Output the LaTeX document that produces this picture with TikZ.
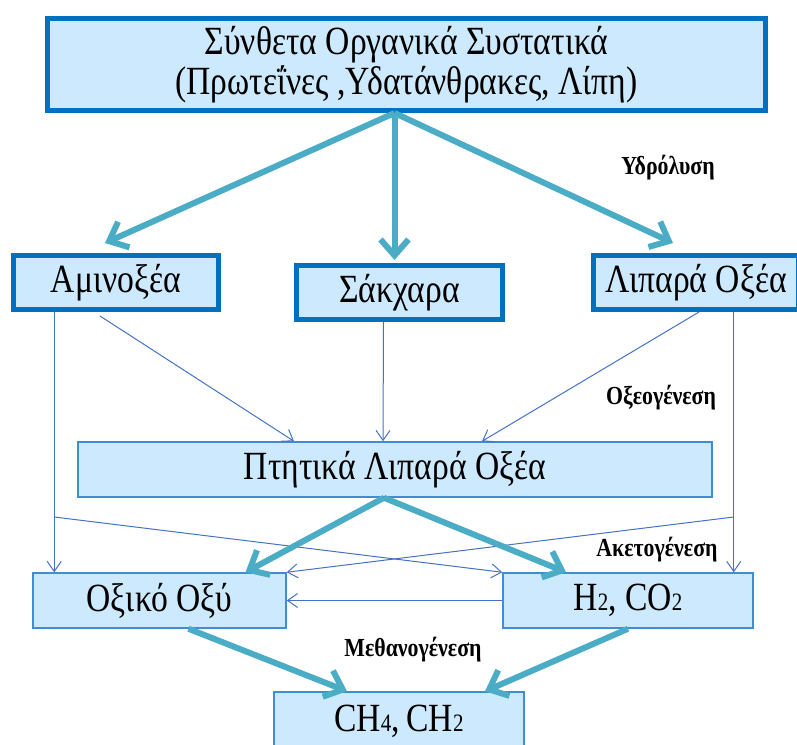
\documentclass[tikz,border=0pt]{standalone}
\usepackage{fontspec}
\setmainfont{Liberation Serif}[FakeStretch=0.84]
\usetikzlibrary{arrows.meta}
\definecolor{boxfill}{RGB}{205,233,253}
\definecolor{boxline}{RGB}{0,112,192}
\definecolor{thinline}{RGB}{65,140,215}
\definecolor{flowthick}{RGB}{75,172,198}
\definecolor{flowthin}{RGB}{68,114,196}
\newcommand{\chemsub}[1]{{\fontsize{25}{25}\selectfont #1}}
\begin{document}
\begin{tikzpicture}[x=1pt,y=-1pt,
 mainbox/.style={draw=boxline,line width=5pt,fill=boxfill,inner sep=0pt,align=center,font=\fontsize{40}{40}\selectfont},
 stagebox/.style={draw=thinline,line width=1.5pt,fill=boxfill,inner sep=0pt,font=\fontsize{40}{40}\selectfont},
 bigflow/.style={draw=flowthick,line width=6pt,-{Straight Barb[length=16pt,width=28pt]}},
 smallflow/.style={draw=flowthin,line width=1pt,-{Straight Barb[length=10pt,width=14pt]}},
 stage/.style={font=\fontsize{26}{26}\selectfont\bfseries}]
 \useasboundingbox (0,0) rectangle (797,744);
 \clip (0,0) rectangle (797,744);
 \node[mainbox,minimum width=718pt,minimum height=92pt] (organic) at (406.5,64.5) {Σύνθετα Οργανικά Συστατικά\\(Πρωτεΐνες ,Υδατάνθρακες, Λίπη)};
 \node[mainbox,minimum width=205pt,minimum height=54pt] (amino) at (116,282.5) {Αμινοξέα};
 \node[mainbox,minimum width=206pt,minimum height=54pt] (sugar) at (399.5,292.5) {Σάκχαρα};
 \node[mainbox,minimum width=205pt,minimum height=54pt] (lipid) at (696,282.5) {Λιπαρά Οξέα};
 \node[stagebox,minimum width=634pt,minimum height=55pt] (vfa) at (395,469.5) {Πτητικά Λιπαρά Οξέα};
 \node[stagebox,minimum width=253pt,minimum height=55pt] (acetic) at (159.5,600.5) {Οξικό Οξύ};
 \node[stagebox,minimum width=250pt,minimum height=55pt] (hco) at (628,600.5) {H\chemsub{2}, CO\chemsub{2}};
 \node[stagebox,minimum width=250pt,minimum height=58pt] (ch4) at (399,721) {CH\chemsub{4},\,CH\chemsub{2}};
 \coordinate (hub) at ([xshift=-12pt]organic.south);
 \draw[bigflow] (hub) -- ([xshift=-11pt,yshift=10pt]amino.north);
 \draw[bigflow,shorten >=3pt] (hub) -- (hub |- sugar.north);
 \draw[bigflow] (hub) -- ([xshift=-23pt,yshift=10pt]lipid.north);
 \draw[smallflow] ([xshift=-16pt,yshift=-4pt]amino.south) -- ([xshift=-101pt]vfa.north);
 \draw[smallflow] ([xshift=-16pt]sugar.south) -- ([xshift=-12pt]vfa.north);
 \draw[smallflow] ([xshift=3pt]lipid.south) -- ([xshift=87pt]vfa.north);
 \coordinate (ldrop) at ([xshift=22pt]acetic.north west);
 \coordinate (rdrop) at ([xshift=-20pt]hco.north east);
 \coordinate (lsplit) at (ldrop |- 0,517);
 \coordinate (rsplit) at (rdrop |- 0,517);
 \draw[smallflow] (ldrop |- amino.south) -- (ldrop);
 \draw[smallflow] (rdrop |- lipid.south) -- (rdrop);
 \draw[smallflow] (lsplit) -- (hco.north west);
 \draw[smallflow] (rsplit) -- (acetic.north east);
 \draw[smallflow] (hco.west) -- (acetic.east);
 \draw[bigflow] ([xshift=-11pt]vfa.south) -- ([xshift=86pt]acetic.north);
 \draw[bigflow] ([xshift=-11pt]vfa.south) -- ([xshift=-62pt]hco.north);
 \draw[bigflow] ([xshift=29pt]acetic.south) -- ([xshift=-52pt]ch4.north);
 \draw[bigflow] (hco.south) -- ([xshift=86pt]ch4.north);
 \node[stage] (hydro) at (668,168) {Υδρόλυση};
 \node[stage] (acido) at (661,398) {Οξεογένεση};
 \node[stage] (aceto) at (657,550) {Ακετογένεση};
 \node[stage] (methano) at (413,650) {Μεθανογένεση};
\end{tikzpicture}
\end{document}
